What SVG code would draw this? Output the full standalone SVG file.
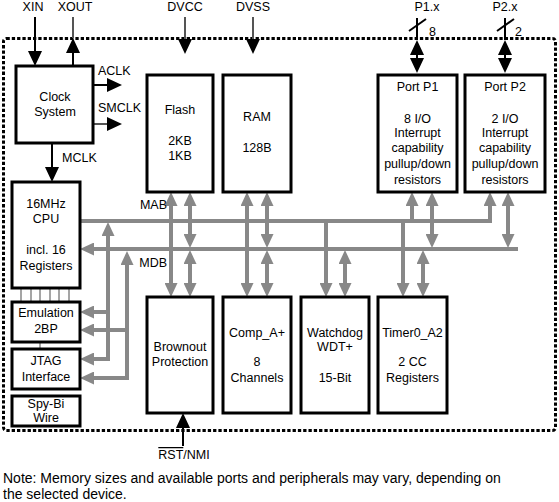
<svg xmlns="http://www.w3.org/2000/svg" width="559" height="502" viewBox="0 0 559 502">
<style>
text{font-family:"Liberation Sans",Arial,sans-serif;font-size:12.5px;fill:#000}
.c{text-anchor:middle}
.n{font-size:14px}
.box{fill:#fff;stroke:#000;stroke-width:3}
.k{fill:none;stroke:#000;stroke-width:2}
.g{fill:none;stroke:#888;stroke-width:4}
.t{fill:none;stroke:#888;stroke-width:1.5}
</style>
<defs>
<marker id="ak" viewBox="0 0 15 14" refX="0" refY="7" markerWidth="15" markerHeight="14" markerUnits="userSpaceOnUse" orient="auto-start-reverse"><path d="M0,0 L15,7 L0,14 z" fill="#000"/></marker>
<marker id="ag" viewBox="0 0 14 13" refX="0" refY="6.5" markerWidth="14" markerHeight="13" markerUnits="userSpaceOnUse" orient="auto-start-reverse"><path d="M0,0 L14,6.5 L0,13 z" fill="#888"/></marker>
</defs>
<rect width="559" height="502" fill="#fff"/>
<rect x="3.5" y="38.5" width="552" height="392" rx="3" fill="none" stroke="#000" stroke-width="3" stroke-dasharray="3.3 2"/>

<g id="connectors">
<path class="k" d="M35,17 V51" marker-end="url(#ak)"/>
<path class="k" d="M73,66 V53" marker-end="url(#ak)"/>
<path d="M73,38 V17" stroke="#555" stroke-width="2"/>
<path d="M185,17 V39" stroke="#555" stroke-width="2" marker-end="url(#ak)"/>
<path d="M253,17 V39" stroke="#555" stroke-width="2" marker-end="url(#ak)"/>
<path class="k" d="M93,85 H107" marker-end="url(#ak)"/>
<path d="M93,124 H107" stroke="#555" stroke-width="2" marker-end="url(#ak)"/>
<path class="k" d="M52,143 V167" marker-end="url(#ak)"/>
<path class="k" d="M417,18 V40"/>
<path class="k" d="M417,55 V58" marker-start="url(#ak)" marker-end="url(#ak)"/>
<path class="k" d="M409,31 L426,19" stroke-width="1.2"/>
<path class="k" d="M505,18 V40"/>
<path class="k" d="M505,55 V58" marker-start="url(#ak)" marker-end="url(#ak)"/>
<path class="k" d="M497,31 L514,19" stroke-width="1.2"/>
<path class="k" d="M183,446 V428" marker-end="url(#ak)"/>

<path class="g" d="M80,221 H490 V206" marker-end="url(#ag)"/>
<path class="g" d="M94,249 H518" marker-start="url(#ag)"/>
<path class="g" d="M412,221 V206" marker-end="url(#ag)"/>
<path class="g" d="M432,206 V234" marker-start="url(#ag)" marker-end="url(#ag)"/>
<path class="g" d="M508,206 V234" marker-start="url(#ag)" marker-end="url(#ag)"/>
<path class="g" d="M171,206 V283" marker-start="url(#ag)" marker-end="url(#ag)"/>
<path class="g" d="M190,206 V234" marker-start="url(#ag)" marker-end="url(#ag)"/>
<path class="g" d="M190,264 V283" marker-start="url(#ag)" marker-end="url(#ag)"/>
<path class="g" d="M247,206 V283" marker-start="url(#ag)" marker-end="url(#ag)"/>
<path class="g" d="M267,206 V234" marker-start="url(#ag)" marker-end="url(#ag)"/>
<path class="g" d="M267,264 V283" marker-start="url(#ag)" marker-end="url(#ag)"/>
<path class="g" d="M326,219 V283" marker-end="url(#ag)"/>
<path class="g" d="M345,264 V283" marker-start="url(#ag)" marker-end="url(#ag)"/>
<path class="g" d="M403,219 V283" marker-end="url(#ag)"/>
<path class="g" d="M423,264 V283" marker-start="url(#ag)" marker-end="url(#ag)"/>
<path class="g" d="M94,359 H108 V236" marker-start="url(#ag)" marker-end="url(#ag)"/>
<path class="g" d="M108,312 H94" marker-end="url(#ag)"/>
<path class="g" d="M94,378 H127 V265" marker-start="url(#ag)" marker-end="url(#ag)"/>
<path class="g" d="M127,330 H94" marker-end="url(#ag)"/>
<path class="t" d="M21,288 V302 M31,288 V302 M40,288 V302 M50,288 V302 M59,288 V302 M69,288 V302 M40,342 V349"/>
</g>

<g id="labels">
<text class="c" x="33" y="11">XIN</text>
<text class="c" x="75" y="11">XOUT</text>
<text class="c" x="185" y="11">DVCC</text>
<text class="c" x="253" y="11">DVSS</text>
<text class="c" x="427" y="11">P1.x</text>
<text class="c" x="505" y="11">P2.x</text>
<text x="429" y="36">8</text>
<text x="515" y="36">2</text>
<text x="98" y="75">ACLK</text>
<text x="98" y="112">SMCLK</text>
<text x="62" y="162">MCLK</text>
<text x="167" y="209" text-anchor="end">MAB</text>
<text x="167" y="267" text-anchor="end">MDB</text>
<text class="c" x="184" y="459"><tspan style="text-decoration:overline">RST</tspan>/NMI</text>
<text class="n" x="3" y="483">Note: Memory sizes and available ports and peripherals may vary, depending on</text>
<text class="n" x="3" y="499">the selected device.</text>
</g>

<g id="clock"><rect class="box" x="16" y="66" width="77" height="77"/><text class="c" x="55" y="101">Clock</text><text class="c" x="55" y="116">System</text></g>
<g id="cpu"><rect class="box" x="12" y="182" width="68" height="106"/><text class="c" x="46" y="208">16MHz</text><text class="c" x="46" y="223">CPU</text><text class="c" x="46" y="254">incl. 16</text><text class="c" x="46" y="270">Registers</text></g>
<g id="emulation"><rect class="box" x="12" y="302" width="68" height="40"/><text class="c" x="46" y="317">Emulation</text><text class="c" x="46" y="333">2BP</text></g>
<g id="jtag"><rect class="box" x="12" y="349" width="68" height="40"/><text class="c" x="46" y="365">JTAG</text><text class="c" x="46" y="381">Interface</text></g>
<g id="spybi"><rect class="box" x="12" y="396" width="68" height="30"/><text class="c" x="46" y="408">Spy-Bi</text><text class="c" x="46" y="422">Wire</text></g>
<g id="flash"><rect class="box" x="147" y="75" width="66" height="117"/><text class="c" x="180" y="114">Flash</text><text class="c" x="180" y="145">2KB</text><text class="c" x="180" y="160">1KB</text></g>
<g id="ram"><rect class="box" x="223" y="75" width="68" height="117"/><text class="c" x="257" y="121">RAM</text><text class="c" x="257" y="152">128B</text></g>
<g id="portp1"><rect class="box" x="378" y="75" width="79" height="117"/><text class="c" x="417.5" y="91">Port P1</text><text class="c" x="417.5" y="123">8 I/O</text><text class="c" x="417.5" y="137">Interrupt</text><text class="c" x="417.5" y="152">capability</text><text class="c" x="417.5" y="168">pullup/down</text><text class="c" x="417.5" y="184">resistors</text></g>
<g id="portp2"><rect class="box" x="465" y="75" width="80" height="117"/><text class="c" x="505" y="91">Port P2</text><text class="c" x="505" y="123">2 I/O</text><text class="c" x="505" y="137">Interrupt</text><text class="c" x="505" y="152">capability</text><text class="c" x="505" y="168">pullup/down</text><text class="c" x="505" y="184">resistors</text></g>
<g id="brownout"><rect class="box" x="147" y="297" width="66" height="116"/><text class="c" x="180" y="351">Brownout</text><text class="c" x="180" y="366">Protection</text></g>
<g id="comp"><rect class="box" x="223" y="297" width="68" height="116"/><text class="c" x="257" y="337">Comp_A+</text><text class="c" x="257" y="366">8</text><text class="c" x="257" y="382">Channels</text></g>
<g id="watchdog"><rect class="box" x="301" y="297" width="68" height="116"/><text class="c" x="335" y="337">Watchdog</text><text class="c" x="335" y="351">WDT+</text><text class="c" x="335" y="382">15-Bit</text></g>
<g id="timer"><rect class="box" x="378" y="297" width="69" height="116"/><text class="c" x="412.5" y="337">Timer0_A2</text><text class="c" x="412.5" y="366">2 CC</text><text class="c" x="412.5" y="382">Registers</text></g>
</svg>
